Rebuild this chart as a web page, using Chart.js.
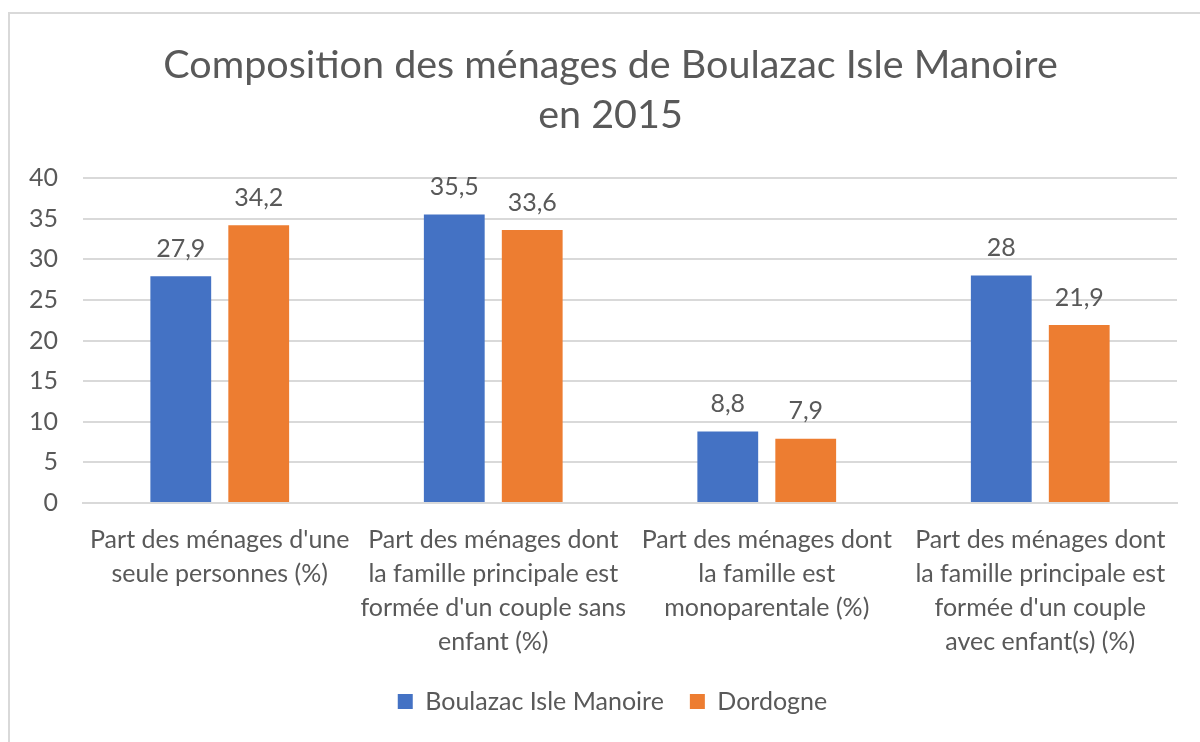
<!DOCTYPE html>
<html>
<head>
<meta charset="utf-8">
<script src="https://cdn.jsdelivr.net/npm/chart.js@4.4.1/dist/chart.umd.min.js"></script>
<style>
  html, body { margin: 0; padding: 0; background: #ffffff; overflow: hidden; }
  #frame { position: absolute; left: 8px; top: 12px; width: 1200px; height: 740px; border: 2px solid #d9d9d9; box-sizing: border-box; background: #fff; }
  #wrap { position: absolute; left: -6px; top: 0; width: 1196px; height: 728px; }
</style>
</head>
<body>
<div id="frame"><div id="wrap"><canvas id="c"></canvas></div></div>
<script>
const titleLines = ["Composition des ménages de Boulazac Isle Manoire", "en 2015"];
const categories = [
  ["Part des ménages d'une", "seule personnes (%)"],
  ["Part des ménages dont", "la famille principale est", "formée d'un couple sans", "enfant (%)"],
  ["Part des ménages dont", "la famille est", "monoparentale (%)"],
  ["Part des ménages dont", "la famille principale est", "formée d'un couple", "avec enfant(s) (%)"]
];
const seriesNames = ["Boulazac Isle Manoire", "Dordogne"];
const boulazacValues = [27.9, 35.5, 8.8, 28];
const dordogneValues = [34.2, 33.6, 7.9, 21.9];
const yTicks = [0, 5, 10, 15, 20, 25, 30, 35, 40];

const FONT = "Lato";
const TEXT = "#595959";

const valueLabels = {
  id: "valueLabels",
  afterDatasetsDraw(chart) {
    const ctx = chart.ctx;
    ctx.save();
    ctx.font = "25px " + FONT;
    ctx.fillStyle = TEXT;
    ctx.textAlign = "center";
    ctx.textBaseline = "bottom";
    chart.data.datasets.forEach((ds, i) => {
      chart.getDatasetMeta(i).data.forEach((bar, j) => {
        const v = ds.data[j];
        ctx.fillText(String(v).replace(".", ","), bar.x, bar.y - 15);
      });
    });
    ctx.restore();
  }
};

// The original chart frame is wider than the visible picture: title and legend are centred on it.
const shiftBoxes = {
  id: "shiftBoxes",
  afterLayout(chart) {
    if (chart.titleBlock) { chart.titleBlock.left += 20; chart.titleBlock.right += 20; }
    if (chart.legend) { chart.legend.left += 22; chart.legend.right += 22; }
  }
};

new Chart(document.getElementById("c"), {
  type: "bar",
  data: {
    labels: categories,
    datasets: [
      { label: seriesNames[0], data: boulazacValues, backgroundColor: "#4472C4", borderWidth: 0 },
      { label: seriesNames[1], data: dordogneValues, backgroundColor: "#ED7D31", borderWidth: 0 }
    ]
  },
  options: {
    responsive: true,
    maintainAspectRatio: false,
    animation: false,
    layout: { padding: { left: 0, right: 23, top: 0, bottom: 18 } },
    datasets: { bar: { categoryPercentage: 0.57, barPercentage: 0.78 } },
    plugins: {
      title: {
        display: true,
        text: titleLines,
        color: TEXT,
        font: { family: FONT, size: 39.5, weight: "normal", lineHeight: 1.266 },
        padding: { top: 26, bottom: 38 }
      },
      legend: {
        position: "bottom",
        labels: {
          color: TEXT,
          font: { family: FONT, size: 25 },
          boxWidth: 15,
          boxHeight: 15,
          padding: 26,
          useBorderRadius: false
        }
      },
      tooltip: { enabled: false }
    },
    scales: {
      x: {
        afterFit(axis) { axis.height -= 16; },
        grid: { display: false, drawTicks: false },
        border: { display: true, color: "#d9d9d9", width: 2 },
        ticks: {
          color: TEXT,
          font: { family: FONT, size: 25, lineHeight: 1.36 },
          maxRotation: 0,
          autoSkip: false,
          padding: 20
        }
      },
      y: {
        min: 0,
        max: 40,
        afterBuildTicks(axis) { axis.ticks = yTicks.map(v => ({ value: v })); },
        grid: { color: "#d9d9d9", lineWidth: 2, drawTicks: false },
        border: { display: false },
        ticks: {
          color: TEXT,
          font: { family: FONT, size: 25 },
          padding: 25
        }
      }
    }
  },
  plugins: [valueLabels, shiftBoxes]
});
</script>
</body>
</html>
